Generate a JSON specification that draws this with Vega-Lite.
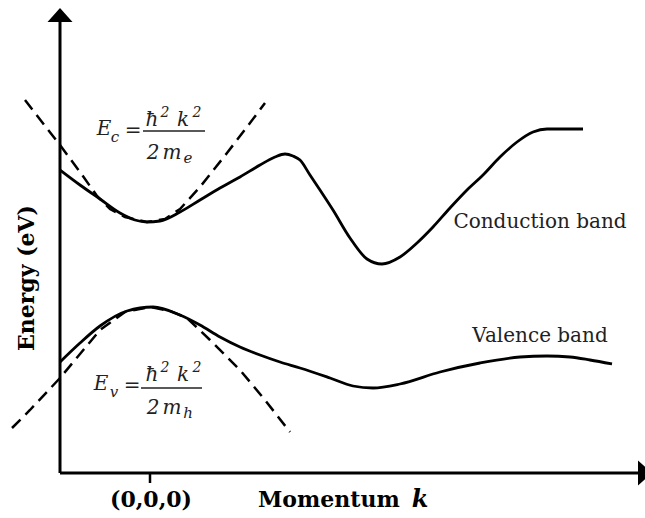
{
  "$schema": "https://vega.github.io/schema/vega-lite/v6.json",
  "width": 645,
  "height": 518,
  "padding": 0,
  "autosize": {"type": "none"},
  "background": "white",
  "config": {"view": {"stroke": null}, "text": {"font": "DejaVu Serif"}},
  "datasets": {
    "bands": [
      {"curve": "Conduction", "k": -0.90, "E": 3.03},
      {"curve": "Conduction", "k": -0.70, "E": 2.88},
      {"curve": "Conduction", "k": -0.50, "E": 2.74},
      {"curve": "Conduction", "k": -0.30, "E": 2.60},
      {"curve": "Conduction", "k": -0.15, "E": 2.53},
      {"curve": "Conduction", "k": -0.03, "E": 2.51},
      {"curve": "Conduction", "k": 0.10, "E": 2.52},
      {"curve": "Conduction", "k": 0.30, "E": 2.61},
      {"curve": "Conduction", "k": 0.50, "E": 2.73},
      {"curve": "Conduction", "k": 0.70, "E": 2.85},
      {"curve": "Conduction", "k": 0.90, "E": 2.96},
      {"curve": "Conduction", "k": 1.10, "E": 3.08},
      {"curve": "Conduction", "k": 1.25, "E": 3.16},
      {"curve": "Conduction", "k": 1.35, "E": 3.19},
      {"curve": "Conduction", "k": 1.43, "E": 3.17},
      {"curve": "Conduction", "k": 1.50, "E": 3.13},
      {"curve": "Conduction", "k": 1.60, "E": 2.98},
      {"curve": "Conduction", "k": 1.70, "E": 2.83},
      {"curve": "Conduction", "k": 1.83, "E": 2.63},
      {"curve": "Conduction", "k": 2.00, "E": 2.35},
      {"curve": "Conduction", "k": 2.17, "E": 2.14},
      {"curve": "Conduction", "k": 2.32, "E": 2.09},
      {"curve": "Conduction", "k": 2.50, "E": 2.16},
      {"curve": "Conduction", "k": 2.67, "E": 2.30},
      {"curve": "Conduction", "k": 2.83, "E": 2.46},
      {"curve": "Conduction", "k": 3.00, "E": 2.65},
      {"curve": "Conduction", "k": 3.17, "E": 2.83},
      {"curve": "Conduction", "k": 3.33, "E": 2.98},
      {"curve": "Conduction", "k": 3.50, "E": 3.16},
      {"curve": "Conduction", "k": 3.67, "E": 3.31},
      {"curve": "Conduction", "k": 3.83, "E": 3.41},
      {"curve": "Conduction", "k": 3.97, "E": 3.44},
      {"curve": "Conduction", "k": 4.33, "E": 3.44},
      {"curve": "Valence", "k": -0.90, "E": 1.11},
      {"curve": "Valence", "k": -0.70, "E": 1.30},
      {"curve": "Valence", "k": -0.50, "E": 1.47},
      {"curve": "Valence", "k": -0.23, "E": 1.62},
      {"curve": "Valence", "k": 0.03, "E": 1.66},
      {"curve": "Valence", "k": 0.30, "E": 1.58},
      {"curve": "Valence", "k": 0.50, "E": 1.48},
      {"curve": "Valence", "k": 0.70, "E": 1.36},
      {"curve": "Valence", "k": 0.90, "E": 1.26},
      {"curve": "Valence", "k": 1.10, "E": 1.18},
      {"curve": "Valence", "k": 1.30, "E": 1.11},
      {"curve": "Valence", "k": 1.50, "E": 1.05},
      {"curve": "Valence", "k": 1.80, "E": 0.95},
      {"curve": "Valence", "k": 2.03, "E": 0.87},
      {"curve": "Valence", "k": 2.23, "E": 0.85},
      {"curve": "Valence", "k": 2.50, "E": 0.89},
      {"curve": "Valence", "k": 2.90, "E": 1.01},
      {"curve": "Valence", "k": 3.30, "E": 1.10},
      {"curve": "Valence", "k": 3.70, "E": 1.16},
      {"curve": "Valence", "k": 3.97, "E": 1.17},
      {"curve": "Valence", "k": 4.20, "E": 1.16},
      {"curve": "Valence", "k": 4.40, "E": 1.13},
      {"curve": "Valence", "k": 4.62, "E": 1.09}
    ],
    "fits": [
      {"curve": "Ec fit", "k": -1.25, "E": 3.73},
      {"curve": "Ec fit", "k": -1.05, "E": 3.47},
      {"curve": "Ec fit", "k": -0.90, "E": 3.28},
      {"curve": "Ec fit", "k": -0.70, "E": 3.01},
      {"curve": "Ec fit", "k": -0.53, "E": 2.77},
      {"curve": "Ec fit", "k": -0.40, "E": 2.64},
      {"curve": "Ec fit", "k": -0.25, "E": 2.56},
      {"curve": "Ec fit", "k": -0.03, "E": 2.51},
      {"curve": "Ec fit", "k": 0.15, "E": 2.54},
      {"curve": "Ec fit", "k": 0.30, "E": 2.64},
      {"curve": "Ec fit", "k": 0.50, "E": 2.86},
      {"curve": "Ec fit", "k": 0.77, "E": 3.20},
      {"curve": "Ec fit", "k": 0.97, "E": 3.46},
      {"curve": "Ec fit", "k": 1.15, "E": 3.70},
      {"curve": "Ev fit", "k": -1.38, "E": 0.45},
      {"curve": "Ev fit", "k": -1.20, "E": 0.63},
      {"curve": "Ev fit", "k": -0.90, "E": 0.95},
      {"curve": "Ev fit", "k": -0.70, "E": 1.19},
      {"curve": "Ev fit", "k": -0.50, "E": 1.43},
      {"curve": "Ev fit", "k": -0.25, "E": 1.61},
      {"curve": "Ev fit", "k": 0.00, "E": 1.66},
      {"curve": "Ev fit", "k": 0.20, "E": 1.62},
      {"curve": "Ev fit", "k": 0.37, "E": 1.55},
      {"curve": "Ev fit", "k": 0.60, "E": 1.33},
      {"curve": "Ev fit", "k": 0.90, "E": 1.03},
      {"curve": "Ev fit", "k": 1.15, "E": 0.73},
      {"curve": "Ev fit", "k": 1.40, "E": 0.41}
    ],
    "axes": [
      {"name": "y axis", "k": -0.9, "E": 0, "k2": -0.9, "E2": 4.53},
      {"name": "x axis", "k": -0.9, "E": 0, "k2": 4.9, "E2": 0}
    ],
    "ticks": [
      {"name": "origin tick", "k": 0, "E": 0, "k2": 0, "E2": -0.1}
    ],
    "bars": [
      {"name": "Ec bar", "k": -0.07, "E": 3.42, "k2": 0.55, "E2": 3.42},
      {"name": "Ev bar", "k": -0.09, "E": 0.85, "k2": 0.52, "E2": 0.85}
    ]
  },
  "encoding": {
    "x": {"field": "k", "type": "quantitative", "axis": null, "scale": {"domain": [-1.5, 4.95], "nice": false, "zero": false}},
    "y": {"field": "E", "type": "quantitative", "axis": null, "scale": {"domain": [-0.45, 4.73], "nice": false, "zero": false}}
  },
  "layer": [
    {
      "data": {"name": "fits"},
      "mark": {"type": "line", "color": "black", "strokeWidth": 2.5, "strokeDash": [12, 7], "clip": false},
      "encoding": {"detail": {"field": "curve"}}
    },
    {
      "data": {"name": "bands"},
      "mark": {"type": "line", "color": "black", "strokeWidth": 2.8, "interpolate": "monotone", "clip": false},
      "encoding": {"detail": {"field": "curve"}}
    },
    {
      "data": {"name": "axes"},
      "mark": {"type": "rule", "color": "black", "strokeWidth": 3},
      "encoding": {"x2": {"field": "k2"}, "y2": {"field": "E2"}}
    },
    {
      "data": {"name": "ticks"},
      "mark": {"type": "rule", "color": "black", "strokeWidth": 2.5},
      "encoding": {"x2": {"field": "k2"}, "y2": {"field": "E2"}}
    },
    {
      "data": {"name": "bars"},
      "mark": {"type": "rule", "color": "#222222", "strokeWidth": 1.3},
      "encoding": {"x2": {"field": "k2"}, "y2": {"field": "E2"}}
    },
    {
      "data": {"values": [{"name": "y arrow", "k": -0.9, "E": 4.58}]},
      "mark": {"type": "point", "shape": "M0,-0.56L1,0.56L-1,0.56Z", "size": 625, "filled": true, "color": "black", "opacity": 1},
      "encoding": {}
    },
    {
      "data": {"values": [{"name": "x arrow", "k": 4.95, "E": 0}]},
      "mark": {"type": "point", "shape": "M0.56,0L-0.56,-1L-0.56,1Z", "size": 625, "filled": true, "color": "black", "opacity": 1, "clip": false},
      "encoding": {}
    },
    {
      "data": {"values": [
        {"k": 3.90, "E": 2.51, "label": "Conduction band"},
        {"k": 3.90, "E": 1.37, "label": "Valence band"}
      ]},
      "mark": {"type": "text", "font": "DejaVu Serif", "fontSize": 20, "color": "#222222", "align": "center", "baseline": "middle"},
      "encoding": {"text": {"field": "label"}}
    },
    {
      "data": {"values": [
        {"k": 0.01, "E": -0.27, "label": "(0,0,0)"}
      ]},
      "mark": {"type": "text", "font": "DejaVu Serif", "fontSize": 22, "fontWeight": "bold", "color": "black", "align": "center", "baseline": "middle"},
      "encoding": {"text": {"field": "label"}}
    },
    {
      "data": {"values": [
        {"k": 1.08, "E": -0.27, "label": "Momentum"}
      ]},
      "mark": {"type": "text", "font": "DejaVu Serif", "fontSize": 22, "fontWeight": "bold", "color": "black", "align": "left", "baseline": "middle"},
      "encoding": {"text": {"field": "label"}}
    },
    {
      "data": {"values": [
        {"k": 2.70, "E": -0.27, "label": "k"}
      ]},
      "mark": {"type": "text", "font": "DejaVu Serif", "fontSize": 24, "fontWeight": "bold", "fontStyle": "italic", "color": "black", "align": "center", "baseline": "middle"},
      "encoding": {"text": {"field": "label"}}
    },
    {
      "data": {"values": [
        {"k": -1.23, "E": 1.95, "label": "Energy (eV)"}
      ]},
      "mark": {"type": "text", "font": "DejaVu Serif", "fontSize": 22, "fontWeight": "bold", "color": "black", "align": "center", "baseline": "middle", "angle": 270},
      "encoding": {"text": {"field": "label"}}
    },
    {
      "data": {"values": [
        {"k": -0.46, "E": 3.44, "label": "E"},
        {"k": 0.02, "E": 3.53, "label": "ħ"},
        {"k": 0.33, "E": 3.53, "label": "k"},
        {"k": 0.03, "E": 3.20, "label": "2"},
        {"k": 0.22, "E": 3.20, "label": "m"},
        {"k": -0.49, "E": 0.89, "label": "E"},
        {"k": 0.02, "E": 0.98, "label": "ħ"},
        {"k": 0.33, "E": 0.98, "label": "k"},
        {"k": 0.03, "E": 0.65, "label": "2"},
        {"k": 0.22, "E": 0.65, "label": "m"}
      ]},
      "mark": {"type": "text", "font": "DejaVu Serif", "fontSize": 20, "fontStyle": "italic", "color": "#222222", "align": "center", "baseline": "middle"},
      "encoding": {"text": {"field": "label"}}
    },
    {
      "data": {"values": [
        {"k": -0.17, "E": 3.42, "label": "="},
        {"k": -0.18, "E": 0.87, "label": "="}
      ]},
      "mark": {"type": "text", "font": "DejaVu Serif", "fontSize": 20, "color": "#222222", "align": "center", "baseline": "middle"},
      "encoding": {"text": {"field": "label"}}
    },
    {
      "data": {"values": [
        {"k": 0.15, "E": 3.60, "label": "2"},
        {"k": 0.47, "E": 3.60, "label": "2"},
        {"k": 0.15, "E": 1.05, "label": "2"},
        {"k": 0.47, "E": 1.05, "label": "2"}
      ]},
      "mark": {"type": "text", "font": "DejaVu Serif", "fontSize": 14, "fontStyle": "italic", "color": "#222222", "align": "center", "baseline": "middle"},
      "encoding": {"text": {"field": "label"}}
    },
    {
      "data": {"values": [
        {"k": -0.35, "E": 3.36, "label": "c"},
        {"k": 0.38, "E": 3.15, "label": "e"},
        {"k": -0.36, "E": 0.81, "label": "v"},
        {"k": 0.38, "E": 0.60, "label": "h"}
      ]},
      "mark": {"type": "text", "font": "DejaVu Serif", "fontSize": 15, "fontStyle": "italic", "color": "#222222", "align": "center", "baseline": "middle"},
      "encoding": {"text": {"field": "label"}}
    }
  ]
}
